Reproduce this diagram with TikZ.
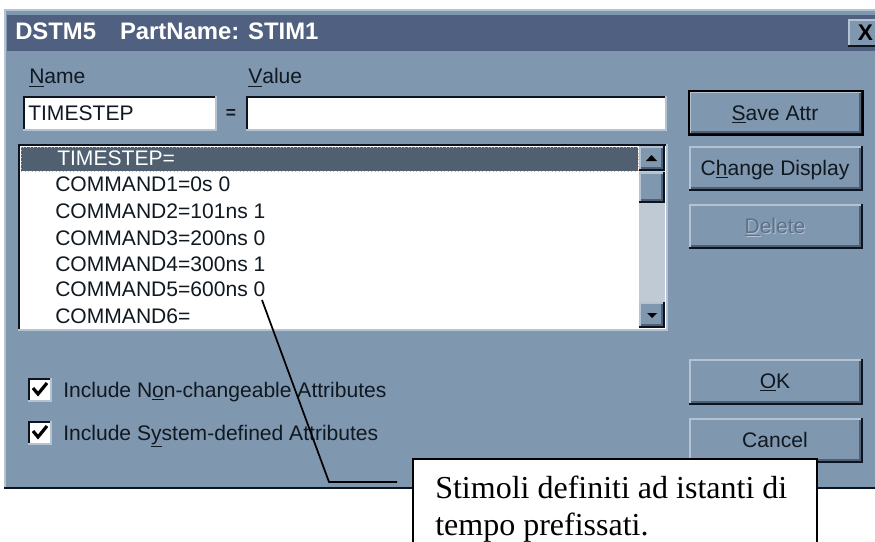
\documentclass[tikz,border=0pt]{standalone}
\usepackage{fontspec}
\setmainfont{Liberation Sans}
\newfontfamily\calloutfont{Liberation Serif}
\definecolor{winbody}{HTML}{8097B0}
\definecolor{wintitle}{HTML}{4F6080}
\definecolor{winlight}{HTML}{B4C2D2}
\definecolor{winshade}{HTML}{4E5F78}
\definecolor{windark}{HTML}{0C1420}
\definecolor{winsel}{HTML}{506070}
\definecolor{wintrack}{HTML}{C0CAD4}
\definecolor{wintext}{HTML}{101820}
\tikzset{
  x=0.75pt,y=-0.75pt,
  uitext/.style={inner sep=0pt,text=wintext,font=\fontsize{15.8pt}{18pt}\selectfont},
  rowtext/.style={uitext,anchor=base west},
  btntext/.style={uitext,anchor=base},
  pointer/.style={draw=black,line width=1.3pt,line join=miter},
  callout/.style={draw=black,line width=1.3pt,fill=white,inner sep=0pt}
}
% raised bevel
\newcommand{\raisedbox}[5]{%
  \fill[winbody] (#1,#2) rectangle (#3,#4);
  \draw[#5,line width=1.5pt] (#1+1,#4-1) -- (#1+1,#2+1) -- (#3-1,#2+1);
  \draw[winshade,line width=1.5pt] (#1+2,#4-3) -- (#3-3,#4-3) -- (#3-3,#2+2);
  \draw[windark,line width=1.5pt] (#1,#4-1) -- (#3-1,#4-1) -- (#3-1,#2);
}
% sunken bevel
\newcommand{\sunkenbox}[5]{%
  \fill[#5] (#1,#2) rectangle (#3,#4);
  \draw[windark,line width=1.7pt] (#1+1,#4-1) -- (#1+1,#2+1) -- (#3-1,#2+1);
  \draw[winlight,line width=1.5pt] (#1,#4) -- (#3,#4) -- (#3,#2);
}
\begin{document}
\begin{tikzpicture}
\useasboundingbox (0,0) rectangle (875,542);
\fill[white] (0,0) rectangle (875,542);
% window
\fill[winbody] (4,9) rectangle (875,488);
\draw[winlight,line width=1.5pt] (5,488) -- (5,10) -- (875,10);
\draw[windark,line width=2.2pt] (4,488) -- (875,488);
\fill[wintitle] (7,15) rectangle (875,51);
\node[anchor=base west,inner sep=0pt,text=white,font=\fontsize{17.9pt}{20pt}\selectfont\bfseries] (title) at (15,40) {DSTM5\hspace{1em}PartName: STIM1};
% close button
\fill[winbody] (848,19) rectangle (875,47);
\draw[winlight,line width=1.5pt] (849,46) -- (849,20) -- (875,20);
\draw[windark,line width=1.5pt] (848,46.5) -- (875,46.5);
\node[inner sep=0pt,font=\fontsize{17pt}{18pt}\selectfont\bfseries,text=black] (closex) at (865.5,33) {X};
% name and value
\node[uitext,anchor=base west] (namelabel) at (29,84) {\underline{N}ame};
\node[uitext,anchor=base west] (valuelabel) at (248,84) {\underline{V}alue};
\sunkenbox{23}{96}{216}{130}{white}
\sunkenbox{246}{96}{666}{130}{white}
\node[rowtext] (namefield) at (28,120) {TIMESTEP};
\node[uitext,font=\fontsize{13pt}{15pt}\selectfont\bfseries] (equals) at (231,114) {=};
% list
\sunkenbox{18}{144}{667}{330}{white}
\fill[winsel] (21,147) rectangle (638,171);
\draw[wintrack!70!orange,line width=0.6pt,dotted] (21,147) rectangle (638,171);
\node[rowtext,text=white] (row0) at (57,165) {TIMESTEP=};
\node[rowtext] (row1) at (55,191) {COMMAND1=0s 0};
\node[rowtext] (row2) at (55,218) {COMMAND2=101ns 1};
\node[rowtext] (row3) at (55,245) {COMMAND3=200ns 0};
\node[rowtext] (row4) at (55,271) {COMMAND4=300ns 1};
\node[rowtext] (row5) at (55,296) {COMMAND5=600ns 0};
\node[rowtext] (row6) at (55,323) {COMMAND6=};
% scrollbar
\fill[wintrack] (639,146) rectangle (665,328);
\raisedbox{639}{146}{665}{171}{winlight}
\raisedbox{639}{172}{665}{203}{winlight}
\raisedbox{639}{302}{665}{328}{winlight}
\fill[black] (646,161) -- (651.5,155) -- (657,161) -- cycle;
\fill[black] (647,313) -- (657,313) -- (652,318) -- cycle;
% buttons
\raisedbox{689}{91}{863}{135}{winlight}
\draw[black,line width=1.5pt] (689,91) rectangle (863,135);
\node[btntext] (save) at (775,120) {\underline{S}ave Attr};
\raisedbox{689}{146}{863}{191}{winlight}
\node[btntext] (change) at (775,175) {C\underline{h}ange Display};
\raisedbox{689}{204}{863}{249}{winlight}
\node[btntext,text=winlight] (deleteshadow) at (776,234) {\underline{D}elete};
\node[btntext,text=winshade!70!winbody] (delete) at (775,233) {\underline{D}elete};
\raisedbox{689}{359}{863}{405}{winlight}
\node[btntext] (ok) at (775,388) {\underline{O}K};
\raisedbox{689}{418}{863}{463}{winlight}
\node[btntext] (cancel) at (775,447) {Cancel};
% checkboxes
\sunkenbox{28}{378}{51}{401}{white}
\sunkenbox{28}{421}{51}{444}{white}
\draw[black,line width=2.4pt] (33,388) -- (38,394) -- (47,383);
\draw[black,line width=2.4pt] (33,431) -- (38,437) -- (47,426);
\node[rowtext] (check1) at (63,397) {Include N\underline{o}n-changeable Attributes};
\node[rowtext] (check2) at (63,440) {Include S\underline{y}stem-defined Attributes};
% callout
\coordinate (tip) at (262,300);
\coordinate (knee) at (329,482);
\coordinate (tail) at (397,482);
\draw[pointer] (tip) -- (knee) -- (tail);
\node[callout,anchor=north west,minimum width=404*0.75pt,minimum height=90*0.75pt] (note) at (412,458) {};
\node[anchor=base west,inner sep=0pt,text=black,font=\calloutfont\fontsize{24pt}{28pt}\selectfont] (note1) at (435,498) {Stimoli definiti ad istanti di};
\node[anchor=base west,inner sep=0pt,text=black,font=\calloutfont\fontsize{24pt}{28pt}\selectfont] (note2) at (435,535) {tempo prefissati.};
\end{tikzpicture}
\end{document}
